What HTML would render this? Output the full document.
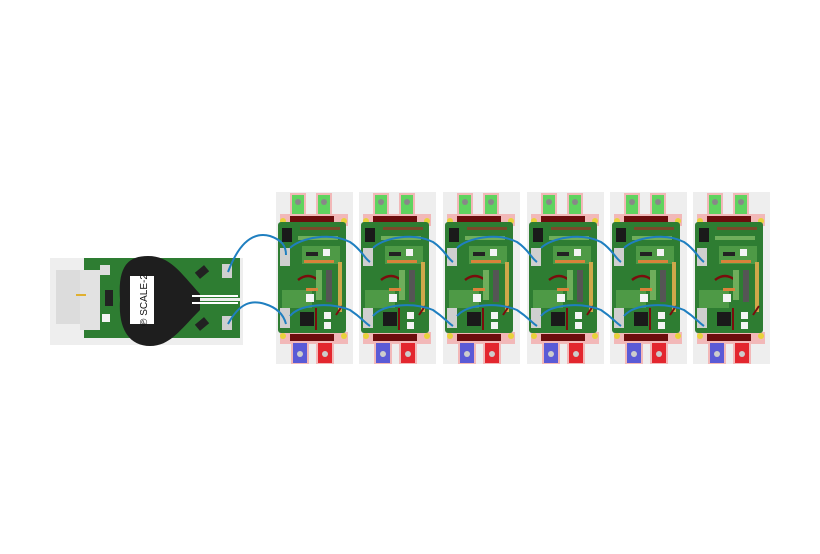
<!DOCTYPE html>
<html><head><style>html,body{margin:0;padding:0;background:#fff;}svg{display:block}</style></head>
<body>
<svg width="820" height="554" viewBox="0 0 820 554" xmlns="http://www.w3.org/2000/svg">
<defs>
<g id="m">
 <rect x="0" y="192" width="77" height="172" fill="#eeeeee"/>
 <rect x="14" y="193" width="16" height="23" fill="#f2b8b8"/>
 <rect x="40" y="193" width="16" height="23" fill="#f2b8b8"/>
 <rect x="16" y="195" width="12" height="20" fill="#5fd35f"/>
 <rect x="42" y="195" width="12" height="20" fill="#5fd35f"/>
 <circle cx="22" cy="202" r="3" fill="#888"/><circle cx="48" cy="202" r="3" fill="#888"/>
 <rect x="4" y="214" width="68" height="12" fill="#f2b8b8"/>
 <rect x="14" y="216" width="44" height="7" fill="#6b0d0d"/>
 <circle cx="7" cy="221" r="3" fill="#e8d23a"/><circle cx="68" cy="221" r="3" fill="#e8d23a"/>
 <rect x="4" y="332" width="68" height="12" fill="#f2b8b8"/>
 <rect x="14" y="334" width="44" height="7" fill="#6b0d0d"/>
 <circle cx="7" cy="336" r="3" fill="#e8d23a"/><circle cx="68" cy="336" r="3" fill="#e8d23a"/>
 <rect x="15" y="342" width="18" height="22" fill="#f2b8b8"/>
 <rect x="40" y="342" width="18" height="22" fill="#f2b8b8"/>
 <rect x="17" y="343" width="14" height="20" fill="#5a5ad6"/>
 <rect x="42" y="343" width="14" height="20" fill="#e3262e"/>
 <circle cx="24" cy="354" r="3" fill="#ccc"/><circle cx="49" cy="354" r="3" fill="#ccc"/>
 <rect x="2" y="222" width="68" height="111" rx="3" fill="#2e7d32"/>
 <rect x="6" y="228" width="10" height="14" fill="#1a1a1a"/>
 <rect x="24" y="227" width="40" height="3" fill="#7a4a2a"/>
 <rect x="22" y="236" width="40" height="4" fill="#6fae5b"/>
 <rect x="26" y="246" width="38" height="18" fill="#4e9a46"/>
 <rect x="30" y="252" width="12" height="4" fill="#222"/>
 <rect x="47" y="249" width="7" height="7" fill="#f4f4f4"/>
 <rect x="28" y="260" width="30" height="3" fill="#d9823a"/>
 <rect x="4" y="248" width="10" height="18" fill="#cfcfcf"/>
 <path d="M22 280 Q32 272 42 280" stroke="#7a0d0d" stroke-width="2.5" fill="none"/>
 <rect x="40" y="270" width="6" height="30" fill="#6fae5b"/>
 <rect x="50" y="270" width="6" height="32" fill="#555"/>
 <rect x="62" y="262" width="4" height="50" fill="#cfa84a"/>
 <rect x="6" y="290" width="30" height="18" fill="#4e9a46"/>
 <rect x="30" y="288" width="12" height="3" fill="#d9823a"/>
 <rect x="30" y="294" width="8" height="8" fill="#f4f4f4"/>
 <rect x="4" y="308" width="10" height="20" fill="#cfcfcf"/>
 <rect x="24" y="312" width="14" height="14" fill="#1a1a1a"/>
 <rect x="48" y="312" width="7" height="7" fill="#f4f4f4"/>
 <rect x="48" y="322" width="7" height="7" fill="#f4f4f4"/>
 <path d="M40 308 L40 330" stroke="#7a0d0d" stroke-width="2"/>
 <path d="M60 315 L66 306" stroke="#7a0d0d" stroke-width="2"/>
</g>
</defs>
<rect x="50" y="258" width="193" height="87" fill="#eeeeee"/>
<rect x="56" y="270" width="42" height="54" fill="#dcdcdc"/>
<rect x="84" y="258" width="80" height="80" fill="#2e7d32"/>
<rect x="162" y="258" width="78" height="40" fill="#2e7d32"/>
<rect x="162" y="301" width="78" height="37" fill="#2e7d32"/>
<rect x="80" y="270" width="20" height="60" fill="#e2e2e2"/>
<rect x="76" y="294" width="10" height="2" fill="#e0b030"/>
<rect x="100" y="265" width="10" height="10" fill="#ddd"/>
<rect x="105" y="290" width="8" height="16" fill="#222"/>
<rect x="102" y="314" width="8" height="8" fill="#f4f4f4"/>
<rect x="196" y="268" width="12" height="8" fill="#222" transform="rotate(-40 202 272)"/>
<rect x="196" y="320" width="12" height="8" fill="#222" transform="rotate(-40 202 324)"/>
<path d="M148 256 C125 256 118 270 120 300 C118 330 130 346 150 346 C170 346 180 330 200 310 L200 294 C180 272 170 256 148 256 Z" fill="#1e1e1e"/>
<rect x="130" y="276" width="24" height="48" fill="#fff"/>
<text x="0" y="0" transform="translate(147,300) rotate(-90)" text-anchor="middle" font-family="Liberation Sans, sans-serif" font-size="10" fill="#111">℗ SCALE-2</text>
<rect x="192" y="295" width="46" height="2" fill="#fff"/>
<rect x="192" y="302" width="46" height="2" fill="#fff"/>
<rect x="222" y="264" width="10" height="14" fill="#cfcfcf"/>
<rect x="222" y="316" width="10" height="14" fill="#cfcfcf"/>
<use href="#m" x="276"/><use href="#m" x="359"/><use href="#m" x="443"/>
<use href="#m" x="527"/><use href="#m" x="610"/><use href="#m" x="693"/>
<g stroke="#1f7fc0" stroke-width="2" fill="none">
<path d="M228 272 C240 240 255 232 270 236 C282 240 286 246 286 255"/>
<path d="M228 324 C240 302 252 300 265 304 C278 308 284 316 286 324"/>
<path d="M290 248 C300 238 330 232 350 242 C362 250 364 258 370 262"/>
<path d="M290 316 C300 304 330 302 350 310 C362 318 364 322 370 326"/>
<path d="M373 248 C383 238 413 232 433 242 C445 250 447 258 453 262"/>
<path d="M373 316 C383 304 413 302 433 310 C445 318 447 322 453 326"/>
<path d="M457 248 C467 238 497 232 517 242 C529 250 531 258 537 262"/>
<path d="M457 316 C467 304 497 302 517 310 C529 318 531 322 537 326"/>
<path d="M541 248 C551 238 581 232 601 242 C613 250 615 258 621 262"/>
<path d="M541 316 C551 304 581 302 601 310 C613 318 615 322 621 326"/>
<path d="M624 248 C634 238 664 232 684 242 C696 250 698 258 704 262"/>
<path d="M624 316 C634 304 664 302 684 310 C696 318 698 322 704 326"/>
</g>
</svg>
</body></html>
